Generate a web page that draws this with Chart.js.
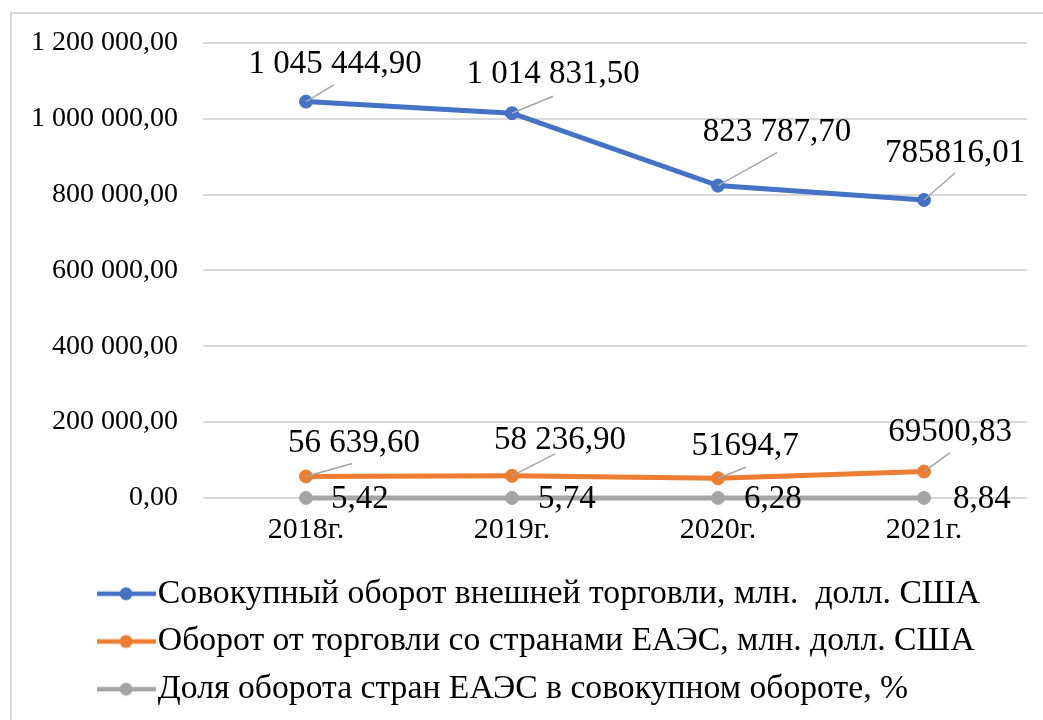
<!DOCTYPE html>
<html><head><meta charset="utf-8">
<script src="https://cdn.jsdelivr.net/npm/chart.js@4.4.1/dist/chart.umd.min.js"></script>
<style>
html,body{margin:0;padding:0;background:#fff;overflow:hidden;}
#wrap{position:relative;width:1043px;height:720px;}
#frame{position:absolute;left:10px;top:12px;width:1100px;height:800px;border:2px solid #d9d9d9;box-sizing:border-box;}
canvas{position:absolute;left:0;top:0;}
</style></head><body>
<div id="wrap"><div id="frame"></div><canvas id="c" width="1043" height="720"></canvas></div>
<script>
const categories = ['2018г.', '2019г.', '2020г.', '2021г.'];
const seriesNames = [
  'Совокупный оборот внешней торговли, млн.  долл. США',
  'Оборот от торговли со странами ЕАЭС, млн. долл. США',
  'Доля оборота стран ЕАЭС в совокупном обороте, %'
];
const totalTurnover = [1045444.90, 1014831.50, 823787.70, 785816.01];
const eaeuTurnover = [56639.60, 58236.90, 51694.7, 69500.83];
const eaeuShare = [5.42, 5.74, 6.28, 8.84];
const totalLabels = ['1 045 444,90', '1 014 831,50', '823 787,70', '785816,01'];
const eaeuLabels = ['56 639,60', '58 236,90', '51694,7', '69500,83'];
const shareLabels = ['5,42', '5,74', '6,28', '8,84'];
const yMin = 0, yMax = 1200000, yStep = 200000;

const colors = ['#4472C4', '#ED7D31', '#A5A5A5'];
const FONT = "'Liberation Serif', 'Times New Roman', serif";

// label placement relative to each point: [text dx (center or left), baseline dy, leader dx, leader dy]
const labelPlacement = [
  {align: 'center', pts: [[29, -29, 28, -17], [41, -30, 41, -17], [59, -45, 59, -33], [31, -38, 31, -27]]},
  {align: 'center', pts: [[48, -24, 46, -13], [48, -27, 43, -22], [27, -23, 28, -11], [26, -31, 26, -19]]},
  {align: 'left', pts: [[25, 10], [26, 10], [26, 10], [29, 10]]}
];
const labelTexts = [totalLabels, eaeuLabels, shareLabels];

function fmt(v) {
  const s = Number(v).toFixed(2).split('.');
  return s[0].replace(/\B(?=(\d{3})+(?!\d))/g, ' ') + ',' + s[1];
}

function makeMarker(color) {
  const c = document.createElement('canvas');
  c.width = 60; c.height = 16;
  const g = c.getContext('2d');
  g.strokeStyle = color; g.lineWidth = 4.5;
  g.beginPath(); g.moveTo(0, 8); g.lineTo(60, 8); g.stroke();
  g.fillStyle = color;
  g.beginPath(); g.arc(30, 8, 6.5, 0, Math.PI * 2); g.fill();
  return c;
}

const legendShift = {
  id: 'legendShift',
  afterLayout(chart) { chart.legend.left += 65; }
};

const dataLabels = {
  id: 'dataLabels',
  afterDatasetsDraw(chart) {
    const ctx = chart.ctx;
    ctx.save();
    ctx.font = '33px ' + FONT;
    ctx.fillStyle = '#000';
    ctx.textBaseline = 'alphabetic';
    chart.data.datasets.forEach((ds, i) => {
      const meta = chart.getDatasetMeta(i);
      const place = labelPlacement[i];
      meta.data.forEach((pt, j) => {
        const o = place.pts[j];
        if (o.length > 2) {
          ctx.strokeStyle = '#A6A6A6';
          ctx.lineWidth = 1.5;
          ctx.beginPath();
          ctx.moveTo(pt.x, pt.y);
          ctx.lineTo(pt.x + o[2], pt.y + o[3]);
          ctx.stroke();
        }
        ctx.textAlign = place.align;
        ctx.fillText(labelTexts[i][j], pt.x + o[0], pt.y + o[1]);
      });
    });
    ctx.restore();
  }
};

const seriesData = [totalTurnover, eaeuTurnover, eaeuShare];
const datasets = seriesData.map((d, i) => ({
  label: seriesNames[i],
  data: d,
  borderColor: colors[i],
  backgroundColor: colors[i],
  pointBackgroundColor: colors[i],
  pointBorderColor: colors[i],
  borderWidth: 5,
  pointRadius: 6.5,
  pointBorderWidth: 1,
  tension: 0,
  fill: false,
  clip: false
}));

new Chart(document.getElementById('c'), {
  type: 'line',
  data: {labels: categories, datasets},
  options: {
    responsive: false,
    animation: false,
    devicePixelRatio: 1,
    layout: {padding: {left: 32, right: 16, top: 43, bottom: 4}},
    scales: {
      x: {
        offset: true,
        grid: {display: false, drawTicks: false},
        border: {display: false},
        ticks: {padding: 14, color: '#000', font: {family: FONT, size: 30}},
        afterFit(s) { s.height = 65; }
      },
      y: {
        min: yMin, max: yMax,
        ticks: {stepSize: yStep, padding: 25, color: '#000', font: {family: FONT, size: 28}, callback: v => fmt(v)},
        grid: {color: '#D9D9D9', lineWidth: 2, drawTicks: false},
        border: {display: false},
        afterFit(s) { s.width = 171; }
      }
    },
    plugins: {
      tooltip: {enabled: false},
      legend: {
        position: 'bottom',
        align: 'start',
        labels: {
          usePointStyle: true,
          pointStyleWidth: 30,
          padding: 14,
          color: '#000',
          font: {family: FONT, size: 33.7},
          generateLabels(chart) {
            const items = Chart.defaults.plugins.legend.labels.generateLabels(chart);
            items.forEach((it, i) => { it.pointStyle = makeMarker(colors[i]); });
            return items;
          }
        }
      }
    }
  },
  plugins: [legendShift, dataLabels]
});
</script>
</body></html>
